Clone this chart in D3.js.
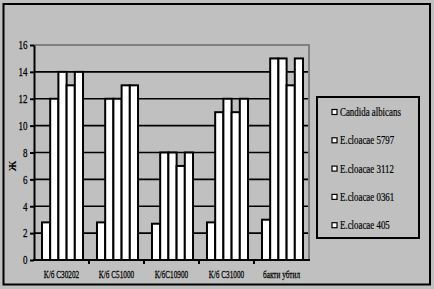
<!DOCTYPE html>
<html>
<head>
<meta charset="utf-8">
<script src="https://cdn.jsdelivr.net/npm/d3@7"></script>
<style>
    body { margin: 0; background: #c0c0c0; }
    svg text { font-family: "Liberation Serif", "Times New Roman", serif !important; fill: #000; }
</style>
</head>
<body>
<svg id="chart" width="434" height="289"></svg>
<script>
// data
const categories = ["К/б С30202", "К/б С51000", "К/бС10900", "К/б С31000", "бакти убтил"];
const seriesNames = ["Candida albicans", "E.cloacae 5797", "E.cloacae 3112", "E.cloacae 0361", "E.cloacae 405"];
const candida = [2.8, 2.8, 2.7, 2.8, 3];
const ec5797 = [12, 12, 8, 11, 15];
const ec3112 = [14, 12, 8, 12, 15];
const ec0361 = [13, 13, 7, 11, 13];
const ec405 = [14, 13, 8, 12, 15];
const yTicks = [0, 2, 4, 6, 8, 10, 12, 14, 16];
const yLabel = "Ж";

const seriesValues = [candida, ec5797, ec3112, ec0361, ec405];

const svg = d3.select("#chart");

// outer frame
svg.append("rect")
    .attr("x", 3.5).attr("y", 4)
    .attr("width", 426.5).attr("height", 280.5)
    .attr("fill", "none").attr("stroke", "#000").attr("stroke-width", 2);

const plot = {left: 34, top: 45, right: 309, bottom: 260};

let x0 = d3.scaleBand()
    .domain(categories)
    .range([plot.left, plot.right])
    .paddingInner(0).paddingOuter(0);

let x1 = d3.scaleBand()
    .domain(seriesNames)
    .range([0, x0.bandwidth()])
    .paddingInner(0).paddingOuter(0.85);

let y = d3.scaleLinear().domain([0, 16]).range([plot.bottom, plot.top]);

// gridlines
svg.append("g")
    .selectAll("line")
    .data(yTicks.filter(t => t > 0 && t < 16))
    .enter().append("line")
    .attr("x1", plot.left).attr("x2", plot.right)
    .attr("y1", d => y(d)).attr("y2", d => y(d))
    .attr("stroke", "#000").attr("stroke-width", 1.6);

// plot area border (top and right, gray)
svg.append("path")
    .attr("d", "M" + plot.left + "," + y(16) + "H" + plot.right + "V" + y(0))
    .attr("fill", "none").attr("stroke", "#808080").attr("stroke-width", 2);

// bars
let groups = svg.append("g")
    .selectAll("g")
    .data(categories)
    .enter().append("g")
    .attr("transform", d => "translate(" + (x0(d) + 1) + ",0)");

groups.selectAll("rect")
    .data((c, i) => seriesNames.map((s, j) => ({s: s, v: seriesValues[j][i]})))
    .enter().append("rect")
    .attr("x", d => x1(d.s))
    .attr("width", x1.bandwidth())
    .attr("y", d => y(d.v))
    .attr("height", d => y(0) - y(d.v))
    .attr("fill", "#fff")
    .attr("stroke", "#000")
    .attr("stroke-width", 2);

// y axis
let yAxis = svg.append("g")
    .attr("transform", "translate(" + plot.left + ",0)")
    .call(d3.axisLeft(y).tickValues(yTicks).tickSize(4).tickSizeOuter(0).tickPadding(4));
yAxis.select(".domain").attr("stroke", "#000").attr("stroke-width", 2);
yAxis.selectAll(".tick line").attr("stroke", "#000").attr("stroke-width", 2);
yAxis.selectAll("text")
    .attr("x", -6.5 / 0.75)
    .attr("font-size", 12)
    .attr("stroke", "#000").attr("stroke-width", 0.25)
    .attr("transform", "scale(0.75,1)");

// x axis with ticks at category boundaries
let xAxis = svg.append("g")
    .attr("transform", "translate(0," + plot.bottom + ")");
xAxis.append("line")
    .attr("x1", plot.left - 1).attr("x2", plot.right + 1)
    .attr("stroke", "#000").attr("stroke-width", 2);
xAxis.selectAll(".tk")
    .data(categories.slice(1))
    .enter().append("line")
    .attr("class", "tk")
    .attr("x1", d => x0(d)).attr("x2", d => x0(d))
    .attr("y1", 0).attr("y2", 4)
    .attr("stroke", "#000").attr("stroke-width", 2);
xAxis.selectAll("text")
    .data(categories)
    .enter().append("text")
    .attr("transform", d => "translate(" + (x0(d) + x0.bandwidth() / 2) + ",18) scale(0.66,1)")
    .attr("text-anchor", "middle")
    .attr("font-size", 11)
    .attr("stroke", "#000").attr("stroke-width", 0.25)
    .text(d => d);

// y label
svg.append("text")
    .attr("transform", "translate(16," + y(7) + ") rotate(-90)")
    .attr("text-anchor", "middle")
    .attr("font-size", 11)
    .attr("font-weight", "bold")
    .text(yLabel);

// legend
let legend = svg.append("g");
legend.append("rect")
    .attr("x", 317).attr("y", 97)
    .attr("width", 102).attr("height", 141)
    .attr("fill", "none").attr("stroke", "#000").attr("stroke-width", 2);

let items = legend.selectAll(".item")
    .data(seriesNames)
    .enter().append("g")
    .attr("class", "item")
    .attr("transform", (d, i) => "translate(332," + (112 + i * 28.3) + ")");

items.append("rect")
    .attr("x", 0).attr("y", -2.5)
    .attr("width", 5).attr("height", 5)
    .attr("fill", "#fff").attr("stroke", "#000").attr("stroke-width", 1.2);

items.append("text")
    .attr("transform", "translate(8,4) scale(0.74,1)")
    .attr("font-size", 12)
    .attr("stroke", "#000").attr("stroke-width", 0.2)
    .text(d => d);
</script>
</body>
</html>
